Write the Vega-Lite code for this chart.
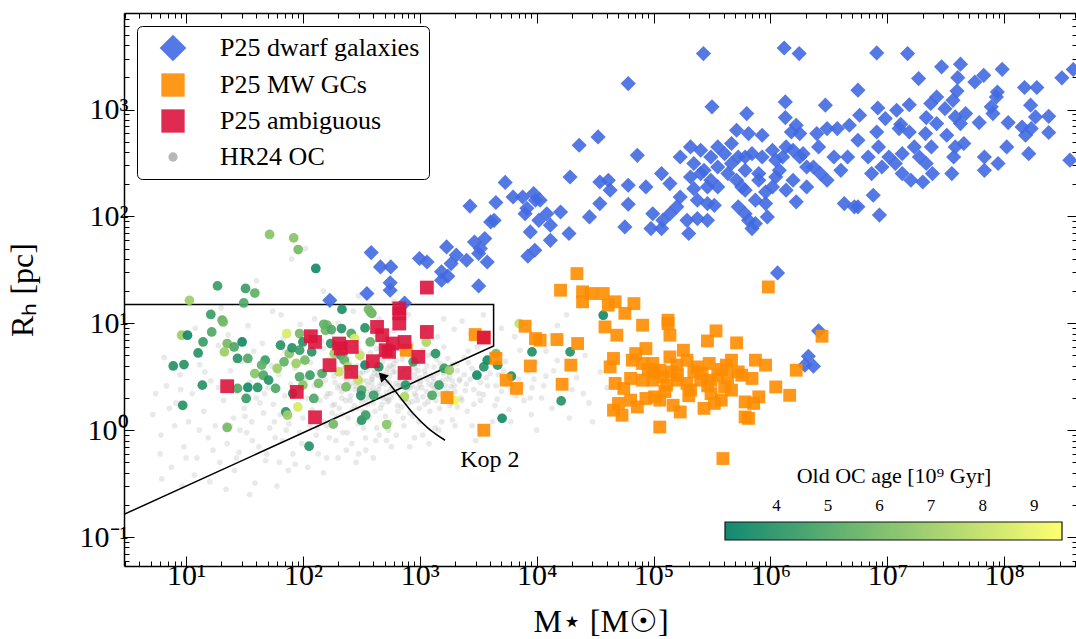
{
"$schema": "https://vega.github.io/schema/vega-lite/v6.json",
"width": 953, "height": 553,
"autosize": {"type": "none"},
"padding": {"left": 124, "top": 13, "right": 0, "bottom": 73},
"background": "white",
"config": {"font": "Liberation Serif", "view": {"stroke": null}},
"datasets": {
"gray": [
{"m":5.2,"r":1.4,"g":"HR24 OC"},{"m":6.1,"r":0.9,"g":"HR24 OC"},{"m":6.8,"r":2.6,"g":"HR24 OC"},{"m":7.5,"r":0.45,"g":"HR24 OC"},{"m":8.2,"r":1.8,"g":"HR24 OC"},{"m":8.9,"r":3.3,"g":"HR24 OC"},{"m":9.6,"r":0.7,"g":"HR24 OC"},{"m":10.5,"r":1.2,"g":"HR24 OC"},{"m":11.3,"r":2.2,"g":"HR24 OC"},{"m":12.4,"r":0.55,"g":"HR24 OC"},{"m":13.1,"r":4.1,"g":"HR24 OC"},{"m":14.2,"r":1.5,"g":"HR24 OC"},{"m":15.5,"r":0.85,"g":"HR24 OC"},{"m":16.3,"r":2.9,"g":"HR24 OC"},{"m":17.8,"r":1.1,"g":"HR24 OC"},{"m":18.9,"r":6.2,"g":"HR24 OC"},{"m":19.5,"r":0.5,"g":"HR24 OC"},{"m":6.5,"r":4.8,"g":"HR24 OC"},{"m":11.8,"r":0.38,"g":"HR24 OC"},{"m":8.0,"r":1.1,"g":"HR24 OC"},
{"m":21,"r":1.9,"g":"HR24 OC"},{"m":22.5,"r":0.75,"g":"HR24 OC"},{"m":24,"r":3.6,"g":"HR24 OC"},{"m":25.5,"r":1.3,"g":"HR24 OC"},{"m":27,"r":2.3,"g":"HR24 OC"},{"m":28.5,"r":0.62,"g":"HR24 OC"},{"m":30,"r":4.4,"g":"HR24 OC"},{"m":31.5,"r":1.6,"g":"HR24 OC"},{"m":33,"r":0.95,"g":"HR24 OC"},{"m":35,"r":2.8,"g":"HR24 OC"},{"m":36.5,"r":1.2,"g":"HR24 OC"},{"m":38,"r":5.5,"g":"HR24 OC"},{"m":40,"r":2.0,"g":"HR24 OC"},{"m":42,"r":0.7,"g":"HR24 OC"},{"m":44,"r":3.1,"g":"HR24 OC"},{"m":46,"r":1.45,"g":"HR24 OC"},{"m":48,"r":0.52,"g":"HR24 OC"},{"m":50,"r":2.5,"g":"HR24 OC"},{"m":52,"r":1.05,"g":"HR24 OC"},{"m":54,"r":4.0,"g":"HR24 OC"},{"m":56,"r":1.75,"g":"HR24 OC"},{"m":58,"r":0.85,"g":"HR24 OC"},{"m":23,"r":7.8,"g":"HR24 OC"},{"m":34,"r":9.5,"g":"HR24 OC"},{"m":45,"r":6.5,"g":"HR24 OC"},{"m":26,"r":0.42,"g":"HR24 OC"},{"m":39,"r":0.32,"g":"HR24 OC"},{"m":55,"r":13,"g":"HR24 OC"},{"m":29,"r":1.0,"g":"HR24 OC"},{"m":47,"r":2.2,"g":"HR24 OC"},
{"m":62,"r":3.3,"g":"HR24 OC"},{"m":64,"r":1.4,"g":"HR24 OC"},{"m":67,"r":0.8,"g":"HR24 OC"},{"m":70,"r":2.1,"g":"HR24 OC"},{"m":73,"r":4.9,"g":"HR24 OC"},{"m":76,"r":1.15,"g":"HR24 OC"},{"m":79,"r":2.7,"g":"HR24 OC"},{"m":82,"r":0.6,"g":"HR24 OC"},{"m":85,"r":3.8,"g":"HR24 OC"},{"m":88,"r":1.7,"g":"HR24 OC"},{"m":91,"r":2.4,"g":"HR24 OC"},{"m":94,"r":0.95,"g":"HR24 OC"},{"m":97,"r":5.6,"g":"HR24 OC"},{"m":100,"r":1.3,"g":"HR24 OC"},{"m":104,"r":3.0,"g":"HR24 OC"},{"m":108,"r":2.0,"g":"HR24 OC"},{"m":112,"r":0.7,"g":"HR24 OC"},{"m":116,"r":4.3,"g":"HR24 OC"},{"m":120,"r":1.55,"g":"HR24 OC"},{"m":125,"r":2.6,"g":"HR24 OC"},{"m":130,"r":0.9,"g":"HR24 OC"},{"m":135,"r":3.5,"g":"HR24 OC"},{"m":140,"r":1.9,"g":"HR24 OC"},{"m":145,"r":6.8,"g":"HR24 OC"},{"m":150,"r":1.2,"g":"HR24 OC"},{"m":155,"r":2.9,"g":"HR24 OC"},{"m":160,"r":0.55,"g":"HR24 OC"},{"m":166,"r":4.6,"g":"HR24 OC"},{"m":172,"r":2.2,"g":"HR24 OC"},{"m":178,"r":1.45,"g":"HR24 OC"},{"m":185,"r":3.2,"g":"HR24 OC"},{"m":192,"r":0.8,"g":"HR24 OC"},{"m":198,"r":2.5,"g":"HR24 OC"},{"m":68,"r":7.2,"g":"HR24 OC"},{"m":95,"r":9.8,"g":"HR24 OC"},{"m":126,"r":11,"g":"HR24 OC"},{"m":180,"r":8.2,"g":"HR24 OC"},{"m":110,"r":0.45,"g":"HR24 OC"},{"m":150,"r":0.4,"g":"HR24 OC"},{"m":75,"r":0.42,"g":"HR24 OC"},{"m":133,"r":1.05,"g":"HR24 OC"},{"m":158,"r":2.05,"g":"HR24 OC"},{"m":187,"r":1.75,"g":"HR24 OC"},{"m":105,"r":50,"g":"HR24 OC"},{"m":80,"r":40,"g":"HR24 OC"},
{"m":205,"r":1.6,"g":"HR24 OC"},{"m":210,"r":3.7,"g":"HR24 OC"},{"m":215,"r":2.3,"g":"HR24 OC"},{"m":220,"r":0.95,"g":"HR24 OC"},{"m":226,"r":5.1,"g":"HR24 OC"},{"m":232,"r":1.9,"g":"HR24 OC"},{"m":238,"r":2.9,"g":"HR24 OC"},{"m":244,"r":1.3,"g":"HR24 OC"},{"m":250,"r":4.2,"g":"HR24 OC"},{"m":256,"r":2.1,"g":"HR24 OC"},{"m":262,"r":0.75,"g":"HR24 OC"},{"m":268,"r":3.3,"g":"HR24 OC"},{"m":275,"r":1.7,"g":"HR24 OC"},{"m":282,"r":2.6,"g":"HR24 OC"},{"m":289,"r":6.0,"g":"HR24 OC"},{"m":296,"r":1.15,"g":"HR24 OC"},{"m":304,"r":3.0,"g":"HR24 OC"},{"m":312,"r":2.0,"g":"HR24 OC"},{"m":320,"r":4.6,"g":"HR24 OC"},{"m":328,"r":1.5,"g":"HR24 OC"},{"m":336,"r":2.45,"g":"HR24 OC"},{"m":344,"r":0.85,"g":"HR24 OC"},{"m":352,"r":3.6,"g":"HR24 OC"},{"m":361,"r":2.15,"g":"HR24 OC"},{"m":370,"r":1.3,"g":"HR24 OC"},{"m":379,"r":5.3,"g":"HR24 OC"},{"m":388,"r":2.8,"g":"HR24 OC"},{"m":398,"r":1.8,"g":"HR24 OC"},{"m":408,"r":3.4,"g":"HR24 OC"},{"m":418,"r":2.3,"g":"HR24 OC"},{"m":428,"r":1.05,"g":"HR24 OC"},{"m":439,"r":4.1,"g":"HR24 OC"},{"m":450,"r":2.6,"g":"HR24 OC"},{"m":461,"r":1.6,"g":"HR24 OC"},{"m":472,"r":3.1,"g":"HR24 OC"},{"m":484,"r":2.0,"g":"HR24 OC"},{"m":496,"r":7.1,"g":"HR24 OC"},{"m":508,"r":1.35,"g":"HR24 OC"},{"m":520,"r":2.9,"g":"HR24 OC"},{"m":533,"r":3.8,"g":"HR24 OC"},{"m":546,"r":1.9,"g":"HR24 OC"},{"m":559,"r":2.4,"g":"HR24 OC"},{"m":573,"r":0.7,"g":"HR24 OC"},{"m":587,"r":3.5,"g":"HR24 OC"},{"m":260,"r":8.5,"g":"HR24 OC"},{"m":340,"r":9.3,"g":"HR24 OC"},{"m":420,"r":7.8,"g":"HR24 OC"},{"m":300,"r":0.6,"g":"HR24 OC"},{"m":450,"r":0.9,"g":"HR24 OC"},{"m":560,"r":1.2,"g":"HR24 OC"},{"m":230,"r":3.9,"g":"HR24 OC"},{"m":310,"r":3.4,"g":"HR24 OC"},{"m":390,"r":3.0,"g":"HR24 OC"},{"m":470,"r":2.75,"g":"HR24 OC"},{"m":550,"r":3.2,"g":"HR24 OC"},{"m":280,"r":2.85,"g":"HR24 OC"},{"m":360,"r":2.65,"g":"HR24 OC"},{"m":440,"r":3.25,"g":"HR24 OC"},{"m":520,"r":2.25,"g":"HR24 OC"},{"m":320,"r":1.85,"g":"HR24 OC"},{"m":400,"r":2.5,"g":"HR24 OC"},{"m":480,"r":4.4,"g":"HR24 OC"},{"m":250,"r":2.55,"g":"HR24 OC"},{"m":430,"r":5.8,"g":"HR24 OC"},{"m":510,"r":5.0,"g":"HR24 OC"},{"m":290,"r":4.0,"g":"HR24 OC"},{"m":370,"r":3.9,"g":"HR24 OC"},
{"m":610,"r":2.3,"g":"HR24 OC"},{"m":630,"r":4.5,"g":"HR24 OC"},{"m":650,"r":1.5,"g":"HR24 OC"},{"m":670,"r":3.1,"g":"HR24 OC"},{"m":690,"r":2.0,"g":"HR24 OC"},{"m":710,"r":5.5,"g":"HR24 OC"},{"m":730,"r":1.1,"g":"HR24 OC"},{"m":750,"r":2.7,"g":"HR24 OC"},{"m":775,"r":3.7,"g":"HR24 OC"},{"m":800,"r":1.8,"g":"HR24 OC"},{"m":825,"r":2.5,"g":"HR24 OC"},{"m":850,"r":6.4,"g":"HR24 OC"},{"m":875,"r":1.35,"g":"HR24 OC"},{"m":900,"r":3.3,"g":"HR24 OC"},{"m":930,"r":2.1,"g":"HR24 OC"},{"m":960,"r":4.2,"g":"HR24 OC"},{"m":990,"r":1.6,"g":"HR24 OC"},{"m":1020,"r":2.9,"g":"HR24 OC"},{"m":1060,"r":0.9,"g":"HR24 OC"},{"m":1100,"r":3.6,"g":"HR24 OC"},{"m":1140,"r":2.3,"g":"HR24 OC"},{"m":1180,"r":5.0,"g":"HR24 OC"},{"m":1220,"r":1.5,"g":"HR24 OC"},{"m":1270,"r":2.6,"g":"HR24 OC"},{"m":1320,"r":3.9,"g":"HR24 OC"},{"m":1370,"r":1.9,"g":"HR24 OC"},{"m":1420,"r":7.5,"g":"HR24 OC"},{"m":1480,"r":2.8,"g":"HR24 OC"},{"m":1540,"r":1.2,"g":"HR24 OC"},{"m":1600,"r":3.4,"g":"HR24 OC"},{"m":1670,"r":2.2,"g":"HR24 OC"},{"m":1740,"r":4.7,"g":"HR24 OC"},{"m":1810,"r":1.7,"g":"HR24 OC"},{"m":1890,"r":2.9,"g":"HR24 OC"},{"m":1970,"r":8.8,"g":"HR24 OC"},{"m":700,"r":3.4,"g":"HR24 OC"},{"m":800,"r":2.9,"g":"HR24 OC"},{"m":900,"r":4.8,"g":"HR24 OC"},{"m":1000,"r":3.1,"g":"HR24 OC"},{"m":1150,"r":4.0,"g":"HR24 OC"},{"m":1300,"r":2.2,"g":"HR24 OC"},{"m":650,"r":2.6,"g":"HR24 OC"},{"m":760,"r":1.95,"g":"HR24 OC"},{"m":950,"r":2.45,"g":"HR24 OC"},{"m":1250,"r":3.25,"g":"HR24 OC"},{"m":1700,"r":3.0,"g":"HR24 OC"},{"m":1500,"r":4.2,"g":"HR24 OC"},{"m":820,"r":0.7,"g":"HR24 OC"},{"m":1200,"r":0.75,"g":"HR24 OC"},
{"m":2100,"r":3.6,"g":"HR24 OC"},{"m":2250,"r":2.0,"g":"HR24 OC"},{"m":2400,"r":4.8,"g":"HR24 OC"},{"m":2550,"r":1.5,"g":"HR24 OC"},{"m":2700,"r":3.0,"g":"HR24 OC"},{"m":2900,"r":2.4,"g":"HR24 OC"},{"m":3100,"r":6.0,"g":"HR24 OC"},{"m":3300,"r":1.9,"g":"HR24 OC"},{"m":3550,"r":3.8,"g":"HR24 OC"},{"m":3800,"r":2.6,"g":"HR24 OC"},{"m":4100,"r":5.2,"g":"HR24 OC"},{"m":4400,"r":1.7,"g":"HR24 OC"},{"m":4700,"r":3.3,"g":"HR24 OC"},{"m":5000,"r":2.3,"g":"HR24 OC"},{"m":5400,"r":4.4,"g":"HR24 OC"},{"m":5800,"r":1.55,"g":"HR24 OC"},{"m":6200,"r":3.0,"g":"HR24 OC"},{"m":6700,"r":2.1,"g":"HR24 OC"},{"m":7200,"r":5.6,"g":"HR24 OC"},{"m":7800,"r":1.9,"g":"HR24 OC"},{"m":8400,"r":3.5,"g":"HR24 OC"},{"m":9100,"r":2.5,"g":"HR24 OC"},{"m":9800,"r":4.3,"g":"HR24 OC"},{"m":11000,"r":2.0,"g":"HR24 OC"},{"m":12000,"r":3.2,"g":"HR24 OC"},{"m":13500,"r":1.6,"g":"HR24 OC"},{"m":15000,"r":4.5,"g":"HR24 OC"},{"m":17000,"r":2.7,"g":"HR24 OC"},{"m":19000,"r":1.3,"g":"HR24 OC"},{"m":22000,"r":3.1,"g":"HR24 OC"},{"m":25000,"r":2.2,"g":"HR24 OC"},{"m":2300,"r":10.5,"g":"HR24 OC"},{"m":3500,"r":12,"g":"HR24 OC"},{"m":5000,"r":9.0,"g":"HR24 OC"},{"m":6500,"r":7.5,"g":"HR24 OC"},{"m":8000,"r":8.5,"g":"HR24 OC"},{"m":2800,"r":1.1,"g":"HR24 OC"},{"m":4200,"r":1.2,"g":"HR24 OC"},{"m":10000,"r":1.0,"g":"HR24 OC"},{"m":15000,"r":9.5,"g":"HR24 OC"},{"m":18000,"r":12,"g":"HR24 OC"},{"m":3000,"r":0.8,"g":"HR24 OC"},
{"m":155,"r":3.4,"g":"HR24 OC"},{"m":163,"r":2.2,"g":"HR24 OC"},{"m":171,"r":4.1,"g":"HR24 OC"},{"m":179,"r":1.7,"g":"HR24 OC"},{"m":188,"r":2.8,"g":"HR24 OC"},{"m":197,"r":5.2,"g":"HR24 OC"},{"m":207,"r":2.6,"g":"HR24 OC"},{"m":218,"r":1.4,"g":"HR24 OC"},{"m":229,"r":3.1,"g":"HR24 OC"},{"m":241,"r":4.7,"g":"HR24 OC"},{"m":253,"r":1.9,"g":"HR24 OC"},{"m":266,"r":3.6,"g":"HR24 OC"},{"m":279,"r":2.4,"g":"HR24 OC"},{"m":293,"r":1.6,"g":"HR24 OC"},{"m":308,"r":5.5,"g":"HR24 OC"},{"m":324,"r":2.9,"g":"HR24 OC"},{"m":340,"r":3.9,"g":"HR24 OC"},{"m":357,"r":1.75,"g":"HR24 OC"},{"m":375,"r":2.35,"g":"HR24 OC"},{"m":394,"r":4.4,"g":"HR24 OC"},{"m":414,"r":1.5,"g":"HR24 OC"},{"m":435,"r":3.3,"g":"HR24 OC"},{"m":457,"r":2.1,"g":"HR24 OC"},{"m":480,"r":5.9,"g":"HR24 OC"},{"m":504,"r":2.7,"g":"HR24 OC"},{"m":529,"r":1.85,"g":"HR24 OC"},{"m":556,"r":4.0,"g":"HR24 OC"},{"m":584,"r":2.5,"g":"HR24 OC"},{"m":613,"r":3.5,"g":"HR24 OC"},{"m":644,"r":1.7,"g":"HR24 OC"},{"m":676,"r":2.9,"g":"HR24 OC"},{"m":710,"r":4.6,"g":"HR24 OC"},{"m":745,"r":2.2,"g":"HR24 OC"},{"m":782,"r":3.2,"g":"HR24 OC"},{"m":821,"r":1.45,"g":"HR24 OC"},{"m":862,"r":2.6,"g":"HR24 OC"},{"m":905,"r":3.8,"g":"HR24 OC"},{"m":950,"r":1.9,"g":"HR24 OC"},{"m":998,"r":2.7,"g":"HR24 OC"},{"m":1048,"r":4.5,"g":"HR24 OC"},{"m":1100,"r":1.75,"g":"HR24 OC"},{"m":1155,"r":3.0,"g":"HR24 OC"},{"m":1213,"r":2.1,"g":"HR24 OC"},{"m":1274,"r":5.2,"g":"HR24 OC"},{"m":1338,"r":2.5,"g":"HR24 OC"},{"m":1405,"r":3.4,"g":"HR24 OC"},{"m":1475,"r":1.6,"g":"HR24 OC"},{"m":1549,"r":2.9,"g":"HR24 OC"},{"m":1626,"r":4.0,"g":"HR24 OC"},{"m":1707,"r":2.3,"g":"HR24 OC"},{"m":1793,"r":3.5,"g":"HR24 OC"},{"m":1882,"r":1.8,"g":"HR24 OC"},{"m":1976,"r":2.6,"g":"HR24 OC"},{"m":2075,"r":4.2,"g":"HR24 OC"},{"m":2179,"r":2.9,"g":"HR24 OC"},{"m":2288,"r":1.9,"g":"HR24 OC"},{"m":2402,"r":3.3,"g":"HR24 OC"},
{"m":160,"r":1.1,"g":"HR24 OC"},{"m":190,"r":6.2,"g":"HR24 OC"},{"m":240,"r":0.95,"g":"HR24 OC"},{"m":270,"r":7.5,"g":"HR24 OC"},{"m":330,"r":1.05,"g":"HR24 OC"},{"m":360,"r":6.6,"g":"HR24 OC"},{"m":420,"r":0.8,"g":"HR24 OC"},{"m":470,"r":6.8,"g":"HR24 OC"},{"m":540,"r":1.0,"g":"HR24 OC"},{"m":600,"r":5.8,"g":"HR24 OC"},{"m":720,"r":1.3,"g":"HR24 OC"},{"m":840,"r":5.0,"g":"HR24 OC"},{"m":980,"r":1.2,"g":"HR24 OC"},{"m":1130,"r":6.3,"g":"HR24 OC"},{"m":1350,"r":1.05,"g":"HR24 OC"},{"m":1600,"r":6.0,"g":"HR24 OC"},{"m":1900,"r":1.25,"g":"HR24 OC"},{"m":2600,"r":5.5,"g":"HR24 OC"},{"m":3200,"r":2.2,"g":"HR24 OC"},{"m":3700,"r":3.1,"g":"HR24 OC"},{"m":4500,"r":2.6,"g":"HR24 OC"},{"m":5200,"r":3.6,"g":"HR24 OC"},{"m":6000,"r":2.4,"g":"HR24 OC"},{"m":7000,"r":3.0,"g":"HR24 OC"},{"m":8800,"r":2.0,"g":"HR24 OC"},{"m":11500,"r":2.6,"g":"HR24 OC"},{"m":14000,"r":3.6,"g":"HR24 OC"},{"m":20000,"r":2.4,"g":"HR24 OC"},{"m":28000,"r":1.8,"g":"HR24 OC"},
{"m":6,"r":0.6,"g":"HR24 OC"},{"m":7.2,"r":1.6,"g":"HR24 OC"},{"m":9,"r":2.4,"g":"HR24 OC"},{"m":10,"r":0.55,"g":"HR24 OC"},{"m":13,"r":1.0,"g":"HR24 OC"},{"m":14.5,"r":3.5,"g":"HR24 OC"},{"m":17,"r":0.65,"g":"HR24 OC"},{"m":19,"r":2.5,"g":"HR24 OC"},{"m":24,"r":1.1,"g":"HR24 OC"},{"m":27,"r":0.55,"g":"HR24 OC"},{"m":32,"r":1.35,"g":"HR24 OC"},{"m":37,"r":0.8,"g":"HR24 OC"},{"m":43,"r":1.8,"g":"HR24 OC"},{"m":49,"r":0.6,"g":"HR24 OC"},{"m":57,"r":1.2,"g":"HR24 OC"},{"m":63,"r":0.5,"g":"HR24 OC"},{"m":72,"r":1.0,"g":"HR24 OC"},{"m":86,"r":0.48,"g":"HR24 OC"},{"m":98,"r":0.75,"g":"HR24 OC"},{"m":115,"r":1.1,"g":"HR24 OC"},{"m":135,"r":0.6,"g":"HR24 OC"},{"m":168,"r":0.85,"g":"HR24 OC"},{"m":200,"r":0.55,"g":"HR24 OC"},{"m":235,"r":0.65,"g":"HR24 OC"},{"m":285,"r":0.5,"g":"HR24 OC"},{"m":345,"r":0.65,"g":"HR24 OC"},{"m":400,"r":0.55,"g":"HR24 OC"},{"m":520,"r":0.8,"g":"HR24 OC"},{"m":630,"r":0.9,"g":"HR24 OC"},{"m":900,"r":0.85,"g":"HR24 OC"},{"m":1450,"r":1.0,"g":"HR24 OC"},{"m":2000,"r":1.1,"g":"HR24 OC"},{"m":5.5,"r":2.2,"g":"HR24 OC"},{"m":6.2,"r":0.35,"g":"HR24 OC"},{"m":9.3,"r":0.3,"g":"HR24 OC"},{"m":16,"r":0.33,"g":"HR24 OC"},{"m":22,"r":0.28,"g":"HR24 OC"},{"m":35,"r":0.25,"g":"HR24 OC"},{"m":60,"r":0.3,"g":"HR24 OC"},
{"m":12,"r":9,"g":"HR24 OC"},{"m":20,"r":14,"g":"HR24 OC"},{"m":30,"r":7,"g":"HR24 OC"},{"m":65,"r":12,"g":"HR24 OC"},{"m":110,"r":7.5,"g":"HR24 OC"},{"m":200,"r":10,"g":"HR24 OC"},{"m":270,"r":13,"g":"HR24 OC"},{"m":450,"r":11,"g":"HR24 OC"},{"m":600,"r":8.5,"g":"HR24 OC"},{"m":800,"r":12,"g":"HR24 OC"},{"m":1100,"r":9,"g":"HR24 OC"},{"m":1600,"r":11,"g":"HR24 OC"},{"m":2700,"r":8,"g":"HR24 OC"},{"m":40,"r":25,"g":"HR24 OC"},{"m":150,"r":20,"g":"HR24 OC"},{"m":300,"r":18,"g":"HR24 OC"},{"m":600,"r":16,"g":"HR24 OC"},{"m":1200,"r":20,"g":"HR24 OC"},{"m":70,"r":5.5,"g":"HR24 OC"},{"m":150,"r":5.8,"g":"HR24 OC"},
{"m":35000,"r":3.5,"g":"HR24 OC"},{"m":26000,"r":5.0,"g":"HR24 OC"},{"m":12000,"r":5.5,"g":"HR24 OC"},{"m":9000,"r":1.4,"g":"HR24 OC"},{"m":6000,"r":1.2,"g":"HR24 OC"},{"m":30000,"r":1.2,"g":"HR24 OC"},{"m":40000,"r":2.5,"g":"HR24 OC"},{"m":16000,"r":7,"g":"HR24 OC"},
{"m":215,"r":2.0,"g":"HR24 OC"},{"m":235,"r":3.3,"g":"HR24 OC"},{"m":255,"r":2.7,"g":"HR24 OC"},{"m":275,"r":3.9,"g":"HR24 OC"},{"m":300,"r":2.2,"g":"HR24 OC"},{"m":325,"r":3.5,"g":"HR24 OC"},{"m":350,"r":2.9,"g":"HR24 OC"},{"m":380,"r":2.0,"g":"HR24 OC"},{"m":410,"r":3.7,"g":"HR24 OC"},{"m":445,"r":2.4,"g":"HR24 OC"},{"m":480,"r":3.3,"g":"HR24 OC"},{"m":515,"r":2.0,"g":"HR24 OC"},{"m":550,"r":2.8,"g":"HR24 OC"},{"m":590,"r":3.9,"g":"HR24 OC"},{"m":630,"r":2.3,"g":"HR24 OC"},{"m":680,"r":2.6,"g":"HR24 OC"},{"m":730,"r":3.6,"g":"HR24 OC"},{"m":780,"r":2.4,"g":"HR24 OC"},{"m":840,"r":3.0,"g":"HR24 OC"},{"m":900,"r":2.2,"g":"HR24 OC"},{"m":970,"r":3.6,"g":"HR24 OC"},{"m":1040,"r":2.5,"g":"HR24 OC"},{"m":1120,"r":3.3,"g":"HR24 OC"},{"m":1200,"r":2.7,"g":"HR24 OC"},{"m":1300,"r":3.1,"g":"HR24 OC"},{"m":1400,"r":2.4,"g":"HR24 OC"},{"m":1500,"r":3.7,"g":"HR24 OC"},{"m":1650,"r":2.6,"g":"HR24 OC"},{"m":1800,"r":3.2,"g":"HR24 OC"},{"m":2000,"r":2.3,"g":"HR24 OC"},{"m":2200,"r":3.0,"g":"HR24 OC"},{"m":2500,"r":2.7,"g":"HR24 OC"},{"m":2800,"r":3.8,"g":"HR24 OC"},{"m":3300,"r":2.8,"g":"HR24 OC"},{"m":4000,"r":3.4,"g":"HR24 OC"},
{"m":225,"r":2.45,"g":"HR24 OC"},{"m":265,"r":1.55,"g":"HR24 OC"},{"m":305,"r":2.65,"g":"HR24 OC"},{"m":345,"r":1.95,"g":"HR24 OC"},{"m":390,"r":3.15,"g":"HR24 OC"},{"m":430,"r":2.25,"g":"HR24 OC"},{"m":475,"r":1.75,"g":"HR24 OC"},{"m":520,"r":3.45,"g":"HR24 OC"},{"m":570,"r":2.05,"g":"HR24 OC"},{"m":620,"r":2.75,"g":"HR24 OC"},{"m":700,"r":1.65,"g":"HR24 OC"},{"m":760,"r":3.05,"g":"HR24 OC"},{"m":860,"r":1.85,"g":"HR24 OC"},{"m":940,"r":2.95,"g":"HR24 OC"},{"m":1060,"r":2.05,"g":"HR24 OC"},{"m":1180,"r":1.85,"g":"HR24 OC"},{"m":1320,"r":2.85,"g":"HR24 OC"},{"m":1460,"r":2.15,"g":"HR24 OC"},{"m":1620,"r":1.95,"g":"HR24 OC"},{"m":1850,"r":2.55,"g":"HR24 OC"},{"m":2100,"r":1.65,"g":"HR24 OC"},{"m":2450,"r":2.35,"g":"HR24 OC"},{"m":2900,"r":1.75,"g":"HR24 OC"},{"m":3500,"r":2.15,"g":"HR24 OC"},{"m":4600,"r":1.95,"g":"HR24 OC"},{"m":5500,"r":2.7,"g":"HR24 OC"},{"m":7500,"r":2.6,"g":"HR24 OC"},{"m":9500,"r":3.0,"g":"HR24 OC"},
{"m":180,"r":3.6,"g":"HR24 OC"},{"m":195,"r":1.35,"g":"HR24 OC"},{"m":330,"r":4.2,"g":"HR24 OC"},{"m":460,"r":4.9,"g":"HR24 OC"},{"m":600,"r":4.2,"g":"HR24 OC"},{"m":880,"r":4.3,"g":"HR24 OC"},{"m":1050,"r":5.6,"g":"HR24 OC"},{"m":1400,"r":4.6,"g":"HR24 OC"},{"m":1900,"r":4.1,"g":"HR24 OC"},{"m":2600,"r":4.3,"g":"HR24 OC"}
],
"box": [{"m":2.949,"r":15,"o":0},{"m":4280,"r":15,"o":1},{"m":4280,"r":6.14,"o":2},{"m":2.949,"r":0.163,"o":3}],
"oc": [
{"m":51.9,"r":67.8,"a":6.5},{"m":83.4,"r":63,"a":6.5},{"m":91.2,"r":49,"a":6},{"m":129,"r":32.6,"a":3.5},{"m":18.6,"r":22.4,"a":4.5},{"m":32.3,"r":21.2,"a":4.5},{"m":38.8,"r":19.2,"a":5.5},{"m":10.7,"r":16.4,"a":7},{"m":31.2,"r":15.5,"a":5},{"m":216,"r":13.5,"a":3.8},{"m":364,"r":13.5,"a":6},{"m":389,"r":12.4,"a":5.5},{"m":16.3,"r":12.1,"a":4.5},{"m":20.4,"r":10.7,"a":5.5},{"m":9.18,"r":7.74,"a":7},{"m":10.3,"r":7.74,"a":3.5},{"m":7.78,"r":3.99,"a":4},{"m":9.61,"r":4.11,"a":4},{"m":9.37,"r":1.71,"a":4},{"m":12.7,"r":5.28,"a":4},{"m":20.8,"r":10.3,"a":6},{"m":14,"r":6.69,"a":4.5},{"m":16.6,"r":8.3,"a":5},{"m":22.5,"r":6.47,"a":6},{"m":21.3,"r":5.4,"a":7},{"m":25.8,"r":6.01,"a":5},{"m":30.2,"r":6.69,"a":3.5},{"m":27.6,"r":4.69,"a":4},{"m":33.8,"r":4.69,"a":5},{"m":13.8,"r":2.64,"a":4},{"m":27.6,"r":2.46,"a":5},{"m":33.8,"r":2.51,"a":3.5},{"m":41,"r":2.51,"a":4},{"m":32.7,"r":1.98,"a":4.5},{"m":22.5,"r":1.06,"a":6},{"m":38.8,"r":3.39,"a":6.5},{"m":45.9,"r":3.27,"a":5},{"m":47.6,"r":4.52,"a":4.5},{"m":44.4,"r":4.06,"a":5.5},{"m":50.9,"r":2.94,"a":4},{"m":58.4,"r":2.46,"a":5},{"m":60.3,"r":3.78,"a":7},{"m":64.4,"r":6.24,"a":4},{"m":69,"r":4.36,"a":5.5},{"m":76.5,"r":5.21,"a":6.5},{"m":80.7,"r":5.89,"a":4},{"m":72.8,"r":8.02,"a":8.5},{"m":93.7,"r":8.02,"a":6},{"m":100,"r":6.69,"a":4},{"m":93.7,"r":5.6,"a":4.5},{"m":87.5,"r":4.21,"a":7},{"m":104,"r":4.52,"a":6},{"m":119,"r":5.4,"a":4},{"m":115,"r":3.27,"a":4.5},{"m":93.7,"r":3.16,"a":5},{"m":100,"r":2.64,"a":6.5},{"m":81.9,"r":2.2,"a":3.5},{"m":71.4,"r":1.48,"a":4},{"m":73.8,"r":1.38,"a":7},{"m":90.6,"r":1.65,"a":8.5},{"m":113,"r":0.708,"a":4},{"m":124,"r":1.98,"a":5},{"m":136,"r":2.74,"a":6},{"m":146,"r":3.39,"a":5},{"m":156,"r":8.61,"a":6},{"m":161,"r":9.6,"a":6},{"m":173,"r":6.47,"a":4},{"m":185,"r":5.21,"a":7},{"m":204,"r":3.51,"a":8},{"m":211,"r":5.02,"a":4.5},{"m":226,"r":4.52,"a":5.5},{"m":242,"r":3.91,"a":7.5},{"m":214,"r":8.93,"a":4},{"m":259,"r":8.02,"a":5},{"m":277,"r":7.2,"a":8.5},{"m":307,"r":5.02,"a":8},{"m":297,"r":2.94,"a":8},{"m":234,"r":2.54,"a":6},{"m":318,"r":2.37,"a":5},{"m":313,"r":2.11,"a":4},{"m":182,"r":1.14,"a":6},{"m":318,"r":1.24,"a":4},{"m":344,"r":1.38,"a":4.5},{"m":403,"r":2.12,"a":4.5},{"m":340,"r":4.06,"a":3.5},{"m":446,"r":3.91,"a":4},{"m":377,"r":6.69,"a":5.5},{"m":340,"r":9.06,"a":4},{"m":377,"r":12.8,"a":6},{"m":521,"r":1.13,"a":6.5},{"m":741,"r":2.05,"a":7.5},{"m":755,"r":2.64,"a":4},{"m":877,"r":4.36,"a":4.5},{"m":1136,"r":6.69,"a":7.5},{"m":1364,"r":5.21,"a":4},{"m":1617,"r":3.78,"a":4.5},{"m":1791,"r":3.64,"a":7},{"m":1276,"r":2.12,"a":5},{"m":1460,"r":2.64,"a":4.5},{"m":1981,"r":1.9,"a":9},{"m":3080,"r":3.27,"a":3.5},{"m":3530,"r":3.91,"a":4},{"m":3780,"r":4.52,"a":3.5},{"m":4480,"r":5.21,"a":6},{"m":4630,"r":4.06,"a":4},{"m":6070,"r":3.2,"a":3.8},{"m":5060,"r":1.29,"a":3.5},{"m":7100,"r":9.95,"a":8},{"m":9120,"r":5.4,"a":3.8},{"m":37100,"r":11.9,"a":3.5},{"m":19300,"r":5.4,"a":4},{"m":16200,"r":1.88,"a":4},{"m":151,"r":9.8,"a":5.5},{"m":175,"r":8.75,"a":5}
],
"dw": [
{"m":170,"r":16.4,"g":"P25 dwarf galaxies"},{"m":353,"r":19.0,"g":"P25 dwarf galaxies"},{"m":384,"r":45.9,"g":"P25 dwarf galaxies"},{"m":461,"r":33.7,"g":"P25 dwarf galaxies"},{"m":565,"r":33.7,"g":"P25 dwarf galaxies"},{"m":558,"r":23.9,"g":"P25 dwarf galaxies"},{"m":558,"r":20.4,"g":"P25 dwarf galaxies"},{"m":741,"r":15.5,"g":"P25 dwarf galaxies"},{"m":994,"r":40.4,"g":"P25 dwarf galaxies"},{"m":1153,"r":37.5,"g":"P25 dwarf galaxies"},{"m":1535,"r":30.3,"g":"P25 dwarf galaxies"},{"m":1535,"r":25.3,"g":"P25 dwarf galaxies"},{"m":1734,"r":27.6,"g":"P25 dwarf galaxies"},{"m":1695,"r":51.9,"g":"P25 dwarf galaxies"},{"m":1853,"r":36.2,"g":"P25 dwarf galaxies"},{"m":2052,"r":43.4,"g":"P25 dwarf galaxies"},{"m":2514,"r":38.9,"g":"P25 dwarf galaxies"},{"m":2687,"r":125,"g":"P25 dwarf galaxies"},{"m":2938,"r":57.7,"g":"P25 dwarf galaxies"},{"m":3190,"r":45,"g":"P25 dwarf galaxies"},{"m":3300,"r":50.1,"g":"P25 dwarf galaxies"},{"m":3597,"r":62.1,"g":"P25 dwarf galaxies"},{"m":3190,"r":22.4,"g":"P25 dwarf galaxies"},{"m":3776,"r":37.5,"g":"P25 dwarf galaxies"},{"m":4040,"r":88.9,"g":"P25 dwarf galaxies"},{"m":4325,"r":92,"g":"P25 dwarf galaxies"},{"m":4477,"r":135,"g":"P25 dwarf galaxies"},{"m":5380,"r":208,"g":"P25 dwarf galaxies"},{"m":6285,"r":152,"g":"P25 dwarf galaxies"},{"m":7590,"r":152,"g":"P25 dwarf galaxies"},{"m":7960,"r":106,"g":"P25 dwarf galaxies"},{"m":8240,"r":119,"g":"P25 dwarf galaxies"},{"m":8820,"r":71.6,"g":"P25 dwarf galaxies"},{"m":8410,"r":42.5,"g":"P25 dwarf galaxies"},{"m":9420,"r":164,"g":"P25 dwarf galaxies"},{"m":9770,"r":142,"g":"P25 dwarf galaxies"},{"m":9640,"r":48.3,"g":"P25 dwarf galaxies"},{"m":10440,"r":92,"g":"P25 dwarf galaxies"},
{"m":2.67e5,"r":3340,"g":"P25 dwarf galaxies"},{"m":1.31e6,"r":3770,"g":"P25 dwarf galaxies"},{"m":1.76e6,"r":3340,"g":"P25 dwarf galaxies"},{"m":8.11e6,"r":3390,"g":"P25 dwarf galaxies"},{"m":1.49e7,"r":3340,"g":"P25 dwarf galaxies"},{"m":2.91e7,"r":2510,"g":"P25 dwarf galaxies"},{"m":4.22e7,"r":2660,"g":"P25 dwarf galaxies"},{"m":4.0e7,"r":1990,"g":"P25 dwarf galaxies"},{"m":1.85e7,"r":1950,"g":"P25 dwarf galaxies"},{"m":9.6e7,"r":2380,"g":"P25 dwarf galaxies"},{"m":6.67e7,"r":2090,"g":"P25 dwarf galaxies"},{"m":5.6e7,"r":1810,"g":"P25 dwarf galaxies"},{"m":3.11e8,"r":1980,"g":"P25 dwarf galaxies"},{"m":3.89e8,"r":2370,"g":"P25 dwarf galaxies"},{"m":1.49e8,"r":1610,"g":"P25 dwarf galaxies"},{"m":1.9e8,"r":1610,"g":"P25 dwarf galaxies"},{"m":6.07e4,"r":1750,"g":"P25 dwarf galaxies"},{"m":5.6e6,"r":1520,"g":"P25 dwarf galaxies"},{"m":3.94e7,"r":1490,"g":"P25 dwarf galaxies"},{"m":8.73e7,"r":1460,"g":"P25 dwarf galaxies"},{"m":2.64e7,"r":1310,"g":"P25 dwarf galaxies"},{"m":2.35e7,"r":1140,"g":"P25 dwarf galaxies"},{"m":3.64e7,"r":1220,"g":"P25 dwarf galaxies"},{"m":8.56e7,"r":1310,"g":"P25 dwarf galaxies"},{"m":1.54e7,"r":1110,"g":"P25 dwarf galaxies"},{"m":1.2e7,"r":985,"g":"P25 dwarf galaxies"},{"m":8.28e6,"r":1035,"g":"P25 dwarf galaxies"},{"m":2.95e6,"r":1100,"g":"P25 dwarf galaxies"},{"m":1.34e6,"r":1180,"g":"P25 dwarf galaxies"},{"m":3.16e5,"r":1060,"g":"P25 dwarf galaxies"},{"m":6.27e5,"r":918,"g":"P25 dwarf galaxies"},{"m":1.34e6,"r":842,"g":"P25 dwarf galaxies"},{"m":1.68e8,"r":1100,"g":"P25 dwarf galaxies"},{"m":7.74e7,"r":1060,"g":"P25 dwarf galaxies"},{"m":3.11e7,"r":1020,"g":"P25 dwarf galaxies"},{"m":4.67e7,"r":918,"g":"P25 dwarf galaxies"},{"m":2.15e7,"r":842,"g":"P25 dwarf galaxies"},{"m":3.81e7,"r":853,"g":"P25 dwarf galaxies"},{"m":2.4e8,"r":865,"g":"P25 dwarf galaxies"},{"m":1.85e8,"r":853,"g":"P25 dwarf galaxies"},{"m":1.08e8,"r":755,"g":"P25 dwarf galaxies"},{"m":6.1e7,"r":755,"g":"P25 dwarf galaxies"},{"m":8.0e7,"r":918,"g":"P25 dwarf galaxies"},{"m":5.79e6,"r":885,"g":"P25 dwarf galaxies"},{"m":9.6e6,"r":824,"g":"P25 dwarf galaxies"},{"m":4.73e6,"r":713,"g":"P25 dwarf galaxies"},{"m":1.3e7,"r":728,"g":"P25 dwarf galaxies"},{"m":2.64e7,"r":739,"g":"P25 dwarf galaxies"},{"m":4.22e7,"r":739,"g":"P25 dwarf galaxies"},{"m":1.66e6,"r":713,"g":"P25 dwarf galaxies"},{"m":1.42e8,"r":687,"g":"P25 dwarf galaxies"},{"m":1.7e8,"r":664,"g":"P25 dwarf galaxies"},{"m":2.4e8,"r":610,"g":"P25 dwarf galaxies"},{"m":1.52e8,"r":575,"g":"P25 dwarf galaxies"},{"m":2.12e7,"r":596,"g":"P25 dwarf galaxies"},{"m":3.22e7,"r":575,"g":"P25 dwarf galaxies"},{"m":1.54e7,"r":617,"g":"P25 dwarf galaxies"},{"m":8.11e6,"r":617,"g":"P25 dwarf galaxies"},{"m":1.26e7,"r":664,"g":"P25 dwarf galaxies"},{"m":3.73e6,"r":664,"g":"P25 dwarf galaxies"},{"m":3.05e6,"r":664,"g":"P25 dwarf galaxies"},{"m":2.49e6,"r":596,"g":"P25 dwarf galaxies"},{"m":1.78e6,"r":596,"g":"P25 dwarf galaxies"},{"m":1.51e6,"r":617,"g":"P25 dwarf galaxies"},{"m":5.13e5,"r":640,"g":"P25 dwarf galaxies"},{"m":6.49e5,"r":596,"g":"P25 dwarf galaxies"},{"m":8.49e5,"r":575,"g":"P25 dwarf galaxies"},{"m":3.35e4,"r":555,"g":"P25 dwarf galaxies"},{"m":2.31e4,"r":464,"g":"P25 dwarf galaxies"},{"m":7.26e4,"r":373,"g":"P25 dwarf galaxies"},{"m":3.64e8,"r":336,"g":"P25 dwarf galaxies"},{"m":1.62e8,"r":387,"g":"P25 dwarf galaxies"},{"m":1.05e8,"r":447,"g":"P25 dwarf galaxies"},{"m":8.85e7,"r":313,"g":"P25 dwarf galaxies"},{"m":6.76e7,"r":270,"g":"P25 dwarf galaxies"},{"m":6.76e7,"r":360,"g":"P25 dwarf galaxies"},{"m":3.69e7,"r":360,"g":"P25 dwarf galaxies"},{"m":3.56e7,"r":252,"g":"P25 dwarf galaxies"},{"m":4.51e7,"r":481,"g":"P25 dwarf galaxies"},{"m":3.81e7,"r":447,"g":"P25 dwarf galaxies"},{"m":2.38e7,"r":447,"g":"P25 dwarf galaxies"},{"m":2.43e7,"r":252,"g":"P25 dwarf galaxies"},{"m":2.01e7,"r":210,"g":"P25 dwarf galaxies"},{"m":1.59e7,"r":218,"g":"P25 dwarf galaxies"},{"m":1.7e7,"r":447,"g":"P25 dwarf galaxies"},{"m":1.34e7,"r":387,"g":"P25 dwarf galaxies"},{"m":1.17e7,"r":313,"g":"P25 dwarf galaxies"},{"m":8.98e6,"r":290,"g":"P25 dwarf galaxies"},{"m":7.33e6,"r":252,"g":"P25 dwarf galaxies"},{"m":8.4e6,"r":447,"g":"P25 dwarf galaxies"},{"m":5.6e6,"r":516,"g":"P25 dwarf galaxies"},{"m":4.57e6,"r":360,"g":"P25 dwarf galaxies"},{"m":4.0e6,"r":270,"g":"P25 dwarf galaxies"},{"m":3.05e6,"r":218,"g":"P25 dwarf galaxies"},{"m":2.33e6,"r":290,"g":"P25 dwarf galaxies"},{"m":2.58e6,"r":447,"g":"P25 dwarf galaxies"},{"m":1.9e6,"r":387,"g":"P25 dwarf galaxies"},{"m":1.56e6,"r":416,"g":"P25 dwarf galaxies"},{"m":1.27e6,"r":360,"g":"P25 dwarf galaxies"},{"m":1.11e6,"r":336,"g":"P25 dwarf galaxies"},{"m":8.49e5,"r":360,"g":"P25 dwarf galaxies"},{"m":6.95e5,"r":387,"g":"P25 dwarf galaxies"},{"m":5.3e5,"r":360,"g":"P25 dwarf galaxies"},{"m":4.64e5,"r":313,"g":"P25 dwarf galaxies"},{"m":4.05e5,"r":387,"g":"P25 dwarf galaxies"},{"m":3.54e5,"r":447,"g":"P25 dwarf galaxies"},{"m":3.09e5,"r":360,"g":"P25 dwarf galaxies"},{"m":2.53e5,"r":416,"g":"P25 dwarf galaxies"},{"m":2.07e5,"r":447,"g":"P25 dwarf galaxies"},{"m":1.69e5,"r":360,"g":"P25 dwarf galaxies"},{"m":2.21e5,"r":313,"g":"P25 dwarf galaxies"},{"m":2.7e5,"r":270,"g":"P25 dwarf galaxies"},{"m":3.54e5,"r":290,"g":"P25 dwarf galaxies"},{"m":6.07e5,"r":270,"g":"P25 dwarf galaxies"},{"m":7.94e5,"r":252,"g":"P25 dwarf galaxies"},{"m":1.11e6,"r":234,"g":"P25 dwarf galaxies"},{"m":1.56e6,"r":218,"g":"P25 dwarf galaxies"},{"m":2.04e6,"r":189,"g":"P25 dwarf galaxies"},{"m":1.36e6,"r":176,"g":"P25 dwarf galaxies"},{"m":1.04e6,"r":189,"g":"P25 dwarf galaxies"},{"m":7.94e5,"r":218,"g":"P25 dwarf galaxies"},{"m":5.68e5,"r":189,"g":"P25 dwarf galaxies"},{"m":5.13e5,"r":218,"g":"P25 dwarf galaxies"},{"m":4.33e5,"r":252,"g":"P25 dwarf galaxies"},{"m":3.09e5,"r":218,"g":"P25 dwarf galaxies"},{"m":2.53e5,"r":252,"g":"P25 dwarf galaxies"},{"m":2.07e5,"r":234,"g":"P25 dwarf galaxies"},{"m":2.21e5,"r":182,"g":"P25 dwarf galaxies"},{"m":2.89e5,"r":189,"g":"P25 dwarf galaxies"},{"m":3.54e5,"r":189,"g":"P25 dwarf galaxies"},{"m":2.37e5,"r":142,"g":"P25 dwarf galaxies"},{"m":2.89e5,"r":132,"g":"P25 dwarf galaxies"},{"m":3.31e5,"r":127,"g":"P25 dwarf galaxies"},{"m":1.38e5,"r":203,"g":"P25 dwarf galaxies"},{"m":1.17e5,"r":252,"g":"P25 dwarf galaxies"},{"m":1.69e5,"r":152,"g":"P25 dwarf galaxies"},{"m":1.58e5,"r":123,"g":"P25 dwarf galaxies"},{"m":1.38e5,"r":106,"g":"P25 dwarf galaxies"},{"m":1.2e5,"r":92,"g":"P25 dwarf galaxies"},{"m":1.93e5,"r":92,"g":"P25 dwarf galaxies"},{"m":2.37e5,"r":95.5,"g":"P25 dwarf galaxies"},{"m":2.89e5,"r":92,"g":"P25 dwarf galaxies"},{"m":2.0e5,"r":69.2,"g":"P25 dwarf galaxies"},{"m":9.84e4,"r":106,"g":"P25 dwarf galaxies"},{"m":9.5e4,"r":77,"g":"P25 dwarf galaxies"},{"m":1.17e5,"r":77,"g":"P25 dwarf galaxies"},{"m":8.6e4,"r":189,"g":"P25 dwarf galaxies"},{"m":6.07e4,"r":196,"g":"P25 dwarf galaxies"},{"m":6.07e4,"r":130,"g":"P25 dwarf galaxies"},{"m":5.68e4,"r":79.8,"g":"P25 dwarf galaxies"},{"m":4.1e4,"r":218,"g":"P25 dwarf galaxies"},{"m":3.47e4,"r":210,"g":"P25 dwarf galaxies"},{"m":4.25e4,"r":176,"g":"P25 dwarf galaxies"},{"m":3.47e4,"r":132,"g":"P25 dwarf galaxies"},{"m":2.83e4,"r":98.9,"g":"P25 dwarf galaxies"},{"m":1.93e4,"r":234,"g":"P25 dwarf galaxies"},{"m":1.6e4,"r":110,"g":"P25 dwarf galaxies"},{"m":1.22e4,"r":106,"g":"P25 dwarf galaxies"},{"m":1.31e4,"r":82.8,"g":"P25 dwarf galaxies"},{"m":1.89e4,"r":69.2,"g":"P25 dwarf galaxies"},{"m":1.31e4,"r":59.8,"g":"P25 dwarf galaxies"},{"m":1.07e4,"r":142,"g":"P25 dwarf galaxies"},{"m":5.3e5,"r":123,"g":"P25 dwarf galaxies"},{"m":6.07e5,"r":106,"g":"P25 dwarf galaxies"},{"m":7.43e5,"r":142,"g":"P25 dwarf galaxies"},{"m":9.08e5,"r":132,"g":"P25 dwarf galaxies"},{"m":6.49e5,"r":92,"g":"P25 dwarf galaxies"},{"m":7.43e5,"r":85.9,"g":"P25 dwarf galaxies"},{"m":9.4e5,"r":98.9,"g":"P25 dwarf galaxies"},{"m":6.95e5,"r":77,"g":"P25 dwarf galaxies"},{"m":1.66e6,"r":137,"g":"P25 dwarf galaxies"},{"m":6.07e5,"r":176,"g":"P25 dwarf galaxies"},{"m":9.08e5,"r":169,"g":"P25 dwarf galaxies"},{"m":4.28e6,"r":132,"g":"P25 dwarf galaxies"},{"m":5.6e6,"r":123,"g":"P25 dwarf galaxies"},{"m":7.57e6,"r":158,"g":"P25 dwarf galaxies"},{"m":8.55e6,"r":103,"g":"P25 dwarf galaxies"},{"m":5.22e6,"r":123,"g":"P25 dwarf galaxies"},{"m":1.15e6,"r":29.6,"g":"P25 dwarf galaxies"},{"m":6.07e5,"r":360,"g":"P25 dwarf galaxies"},{"m":1.04e6,"r":416,"g":"P25 dwarf galaxies"},{"m":1.36e6,"r":447,"g":"P25 dwarf galaxies"},{"m":1.78e6,"r":360,"g":"P25 dwarf galaxies"},{"m":2.04e6,"r":290,"g":"P25 dwarf galaxies"},{"m":3.49e6,"r":360,"g":"P25 dwarf galaxies"},{"m":6.85e6,"r":360,"g":"P25 dwarf galaxies"},{"m":1.03e7,"r":360,"g":"P25 dwarf galaxies"},{"m":2.15e7,"r":313,"g":"P25 dwarf galaxies"},{"m":1.88e7,"r":360,"g":"P25 dwarf galaxies"},{"m":1.34e7,"r":252,"g":"P25 dwarf galaxies"},{"m":2.67e6,"r":252,"g":"P25 dwarf galaxies"},{"m":1.19e6,"r":270,"g":"P25 dwarf galaxies"},{"m":4.64e5,"r":481,"g":"P25 dwarf galaxies"},{"m":2.58e6,"r":8.5,"g":"P25 dwarf galaxies"},{"m":2.11e6,"r":4.92,"g":"P25 dwarf galaxies"},{"m":2.33e6,"r":3.97,"g":"P25 dwarf galaxies"},{"m":1.97e6,"r":4.06,"g":"P25 dwarf galaxies"}
],
"gc": [
{"m":2.21e4,"r":29.2,"g":"P25 MW GCs"},{"m":1.6e4,"r":20.4,"g":"P25 MW GCs"},{"m":2.47e4,"r":19.7,"g":"P25 MW GCs"},{"m":2.93e4,"r":19.0,"g":"P25 MW GCs"},{"m":2.47e4,"r":15.9,"g":"P25 MW GCs"},{"m":3.71e4,"r":19.0,"g":"P25 MW GCs"},{"m":4.69e4,"r":15.9,"g":"P25 MW GCs"},{"m":6.79e4,"r":15.3,"g":"P25 MW GCs"},{"m":4.1e4,"r":14.8,"g":"P25 MW GCs"},{"m":5.68e4,"r":12.4,"g":"P25 MW GCs"},{"m":1.33e5,"r":10.7,"g":"P25 MW GCs"},{"m":9.59e5,"r":21.9,"g":"P25 MW GCs"},{"m":8.05e4,"r":9.6,"g":"P25 MW GCs"},{"m":3.84e4,"r":9.25,"g":"P25 MW GCs"},{"m":4.85e4,"r":7.74,"g":"P25 MW GCs"},{"m":1.33e5,"r":9.95,"g":"P25 MW GCs"},{"m":1.38e5,"r":7.74,"g":"P25 MW GCs"},{"m":3.42e5,"r":8.5,"g":"P25 MW GCs"},{"m":2.89e5,"r":6.84,"g":"P25 MW GCs"},{"m":5.13e5,"r":6.56,"g":"P25 MW GCs"},{"m":1.49e4,"r":7.05,"g":"P25 MW GCs"},{"m":2.24e4,"r":6.47,"g":"P25 MW GCs"},{"m":1.96e4,"r":4.06,"g":"P25 MW GCs"},{"m":1.65e4,"r":2.69,"g":"P25 MW GCs"},{"m":1.07e4,"r":6.95,"g":"P25 MW GCs"},{"m":8.6e4,"r":5.81,"g":"P25 MW GCs"},{"m":7.03e4,"r":5.21,"g":"P25 MW GCs"},{"m":4.54e4,"r":4.69,"g":"P25 MW GCs"},{"m":4.25e4,"r":3.91,"g":"P25 MW GCs"},{"m":6.58e4,"r":4.52,"g":"P25 MW GCs"},{"m":8.05e4,"r":4.21,"g":"P25 MW GCs"},{"m":9.84e4,"r":4.21,"g":"P25 MW GCs"},{"m":1.38e5,"r":4.85,"g":"P25 MW GCs"},{"m":1.8e5,"r":5.6,"g":"P25 MW GCs"},{"m":1.93e5,"r":4.52,"g":"P25 MW GCs"},{"m":2.37e5,"r":3.91,"g":"P25 MW GCs"},{"m":2.99e5,"r":4.21,"g":"P25 MW GCs"},{"m":4.19e5,"r":4.06,"g":"P25 MW GCs"},{"m":5.3e5,"r":3.51,"g":"P25 MW GCs"},{"m":7.43e5,"r":4.52,"g":"P25 MW GCs"},{"m":9.08e5,"r":4.06,"g":"P25 MW GCs"},{"m":6.95e5,"r":3.05,"g":"P25 MW GCs"},{"m":5.68e5,"r":3.27,"g":"P25 MW GCs"},{"m":4.69e4,"r":2.74,"g":"P25 MW GCs"},{"m":5.56e4,"r":2.46,"g":"P25 MW GCs"},{"m":6.36e4,"r":3.05,"g":"P25 MW GCs"},{"m":8.05e4,"r":2.94,"g":"P25 MW GCs"},{"m":9.84e4,"r":2.94,"g":"P25 MW GCs"},{"m":1.2e5,"r":3.16,"g":"P25 MW GCs"},{"m":1.43e5,"r":3.51,"g":"P25 MW GCs"},{"m":1.58e5,"r":2.94,"g":"P25 MW GCs"},{"m":1.93e5,"r":2.74,"g":"P25 MW GCs"},{"m":2.53e5,"r":2.94,"g":"P25 MW GCs"},{"m":3.1e5,"r":2.94,"g":"P25 MW GCs"},{"m":3.54e5,"r":3.27,"g":"P25 MW GCs"},{"m":4.05e5,"r":2.54,"g":"P25 MW GCs"},{"m":4.64e5,"r":2.37,"g":"P25 MW GCs"},{"m":1.11e6,"r":2.54,"g":"P25 MW GCs"},{"m":1.46e6,"r":2.12,"g":"P25 MW GCs"},{"m":1.66e6,"r":3.64,"g":"P25 MW GCs"},{"m":2.76e6,"r":7.57,"g":"P25 MW GCs"},{"m":6.07e5,"r":1.84,"g":"P25 MW GCs"},{"m":7.18e5,"r":1.78,"g":"P25 MW GCs"},{"m":7.94e5,"r":2.05,"g":"P25 MW GCs"},{"m":3.31e5,"r":1.78,"g":"P25 MW GCs"},{"m":2.7e5,"r":1.6,"g":"P25 MW GCs"},{"m":3.79e5,"r":1.91,"g":"P25 MW GCs"},{"m":6.07e5,"r":1.33,"g":"P25 MW GCs"},{"m":6.49e5,"r":1.29,"g":"P25 MW GCs"},{"m":1.69e5,"r":1.48,"g":"P25 MW GCs"},{"m":1.47e5,"r":1.71,"g":"P25 MW GCs"},{"m":1.13e5,"r":1.91,"g":"P25 MW GCs"},{"m":1.02e5,"r":2.05,"g":"P25 MW GCs"},{"m":8.6e4,"r":1.98,"g":"P25 MW GCs"},{"m":7.26e4,"r":1.65,"g":"P25 MW GCs"},{"m":5.37e4,"r":1.38,"g":"P25 MW GCs"},{"m":4.54e4,"r":1.54,"g":"P25 MW GCs"},{"m":6.36e4,"r":1.91,"g":"P25 MW GCs"},{"m":5.01e4,"r":1.78,"g":"P25 MW GCs"},{"m":1.13e5,"r":1.07,"g":"P25 MW GCs"},{"m":3.92e5,"r":0.543,"g":"P25 MW GCs"},{"m":1.29e5,"r":2.64,"g":"P25 MW GCs"},{"m":2.07e5,"r":2.37,"g":"P25 MW GCs"},{"m":3.1e5,"r":2.2,"g":"P25 MW GCs"},{"m":2.21e5,"r":3.51,"g":"P25 MW GCs"},{"m":1.58e5,"r":4.06,"g":"P25 MW GCs"},{"m":1.13e5,"r":3.64,"g":"P25 MW GCs"},{"m":4.64e5,"r":4.52,"g":"P25 MW GCs"},{"m":2980,"r":7.85,"g":"P25 MW GCs"},{"m":3530,"r":7.36,"g":"P25 MW GCs"},{"m":7960,"r":9.4,"g":"P25 MW GCs"},{"m":9770,"r":7.2,"g":"P25 MW GCs"},{"m":4480,"r":4.69,"g":"P25 MW GCs"},{"m":766,"r":5.6,"g":"P25 MW GCs"},{"m":8820,"r":3.99,"g":"P25 MW GCs"},{"m":5480,"r":2.94,"g":"P25 MW GCs"},{"m":6720,"r":2.46,"g":"P25 MW GCs"},{"m":1710,"r":2.02,"g":"P25 MW GCs"},{"m":3530,"r":1.0,"g":"P25 MW GCs"},{"m":1.0e5,"r":3.5,"g":"P25 MW GCs"},{"m":1.25e5,"r":2.3,"g":"P25 MW GCs"},{"m":2.6e5,"r":3.4,"g":"P25 MW GCs"},{"m":3.8e5,"r":3.7,"g":"P25 MW GCs"},{"m":2.0e5,"r":2.1,"g":"P25 MW GCs"},{"m":1.6e5,"r":3.3,"g":"P25 MW GCs"},{"m":9.0e4,"r":3.7,"g":"P25 MW GCs"},{"m":2.9e5,"r":2.6,"g":"P25 MW GCs"},{"m":4.3e5,"r":3.1,"g":"P25 MW GCs"}
],
"amb": [
{"m":668,"r":12.4,"g":"P25 ambiguous"},{"m":668,"r":9.95,"g":"P25 ambiguous"},{"m":1150,"r":8.3,"g":"P25 ambiguous"},{"m":431,"r":9.25,"g":"P25 ambiguous"},{"m":477,"r":7.74,"g":"P25 ambiguous"},{"m":117,"r":7.57,"g":"P25 ambiguous"},{"m":127,"r":6.69,"g":"P25 ambiguous"},{"m":204,"r":6.47,"g":"P25 ambiguous"},{"m":262,"r":6.01,"g":"P25 ambiguous"},{"m":511,"r":5.6,"g":"P25 ambiguous"},{"m":585,"r":6.47,"g":"P25 ambiguous"},{"m":741,"r":6.69,"g":"P25 ambiguous"},{"m":972,"r":4.85,"g":"P25 ambiguous"},{"m":397,"r":4.42,"g":"P25 ambiguous"},{"m":169,"r":4.06,"g":"P25 ambiguous"},{"m":259,"r":3.51,"g":"P25 ambiguous"},{"m":741,"r":3.43,"g":"P25 ambiguous"},{"m":88.7,"r":2.28,"g":"P25 ambiguous"},{"m":22.5,"r":2.58,"g":"P25 ambiguous"},{"m":127,"r":1.32,"g":"P25 ambiguous"},{"m":3530,"r":7.36,"g":"P25 ambiguous"},{"m":1150,"r":21.6,"g":"P25 ambiguous"},{"m":546,"r":5.4,"g":"P25 ambiguous"},{"m":211,"r":5.81,"g":"P25 ambiguous"},{"m":668,"r":13.8,"g":"P25 ambiguous"}
],
"arrow": [{"m":1644,"r":0.805,"o":0},{"m":1175,"r":1.045,"o":1},{"m":879,"r":1.43,"o":2},{"m":676,"r":2.04,"o":3},{"m":545,"r":2.75,"o":4},{"m":475,"r":3.23,"o":5}],
"head": [{"m":475,"r":3.23}],
"label": [{"m":3980,"r":0.524,"t":"Kop 2"}]
},
"layer": [
{
"data": {"name": "gray"},
"mark": {"type": "point", "filled": true, "size": 32, "opacity": 0.28, "strokeWidth": 0, "clip": true},
"encoding": {
"x": {"field": "m", "type": "quantitative", "scale": {"type": "log", "domain": [2.949, 4.19e8], "nice": false},
"axis": {"orient": "bottom", "values": [3,4,5,6,7,8,9,10,20,30,40,50,60,70,80,90,100,200,300,400,500,600,700,800,900,1000,2000,3000,4000,5000,6000,7000,8000,9000,10000,20000,30000,40000,50000,60000,70000,80000,90000,100000,200000,300000,400000,500000,600000,700000,800000,900000,1000000,2000000,3000000,4000000,5000000,6000000,7000000,8000000,9000000,10000000,20000000,30000000,40000000,50000000,60000000,70000000,80000000,90000000,100000000,200000000,300000000,400000000],
"labelExpr": "abs(log(datum.value)/LN10 - round(log(datum.value)/LN10)) < 0.001 ? '10' + (round(log(datum.value)/LN10) < 0 ? '⁻' : '') + substring('⁰¹²³⁴⁵⁶⁷⁸⁹', abs(round(log(datum.value)/LN10)), abs(round(log(datum.value)/LN10)) + 1) : ''",
"tickSize": {"condition": {"test": "abs(log(datum.value)/LN10 - round(log(datum.value)/LN10)) < 0.001", "value": -10}, "value": -5},
"tickColor": "black", "tickWidth": 1, "domainColor": "black", "domainWidth": 1.5, "grid": false,
"labelFont": "Liberation Serif", "labelFontSize": 30, "labelColor": "black", "labelPadding": 4, "labelOverlap": false, "labelFlush": false, "labelBound": false,
"title": "M⋆ [M☉]", "titleFont": "Liberation Serif", "titleFontSize": 32, "titleFontWeight": "normal", "titleColor": "black", "titlePadding": 11}},
"y": {"field": "r", "type": "quantitative", "scale": {"type": "log", "domain": [0.0536, 8010], "nice": false},
"axis": {"orient": "left", "values": [0.06,0.07,0.08,0.09,0.1,0.2,0.3,0.4,0.5,0.6,0.7,0.8,0.9,1,2,3,4,5,6,7,8,9,10,20,30,40,50,60,70,80,90,100,200,300,400,500,600,700,800,900,1000,2000,3000,4000,5000,6000,7000,8000],
"labelExpr": "abs(log(datum.value)/LN10 - round(log(datum.value)/LN10)) < 0.001 ? '10' + (round(log(datum.value)/LN10) < 0 ? '⁻' : '') + substring('⁰¹²³⁴⁵⁶⁷⁸⁹', abs(round(log(datum.value)/LN10)), abs(round(log(datum.value)/LN10)) + 1) : ''",
"tickSize": {"condition": {"test": "abs(log(datum.value)/LN10 - round(log(datum.value)/LN10)) < 0.001", "value": -10}, "value": -5},
"tickColor": "black", "tickWidth": 1, "domainColor": "black", "domainWidth": 1.5, "grid": false,
"labelFont": "Liberation Serif", "labelFontSize": 30, "labelColor": "black", "labelPadding": 6, "labelOverlap": false, "labelFlush": false, "labelBound": false,
"title": "Rₕ [pc]", "titleFont": "Liberation Serif", "titleFontSize": 32, "titleFontWeight": "normal", "titleColor": "black", "titlePadding": 40}},
"color": {"field": "g", "type": "nominal",
"scale": {"domain": ["P25 dwarf galaxies", "P25 MW GCs", "P25 ambiguous", "HR24 OC"], "range": ["#4169e1", "#ff8c00", "#dc143c", "#b0b0b0"]},
"legend": {"title": null, "orient": "none", "legendX": 13, "legendY": 13, "direction": "vertical", "fillColor": "white", "strokeColor": "black", "cornerRadius": 5, "padding": 9, "symbolSize": 700, "symbolOffset": 14, "labelOffset": 34, "labelLimit": 500, "labelFont": "Liberation Serif", "labelFontSize": 26, "labelColor": "black", "rowPadding": 10, "symbolStrokeWidth": 0, "symbolOpacity": 0.9,
"encode": {"symbols": {"update": {"size": {"signal": "datum.value === 'HR24 OC' ? 86 : datum.value === 'P25 dwarf galaxies' ? 713 : 543"}}}}}},
"shape": {"field": "g", "type": "nominal",
"scale": {"domain": ["P25 dwarf galaxies", "P25 MW GCs", "P25 ambiguous", "HR24 OC"], "range": ["diamond", "square", "square", "circle"]},
"legend": {"title": null, "orient": "none", "legendX": 13, "legendY": 13, "direction": "vertical", "fillColor": "white", "strokeColor": "black", "cornerRadius": 5, "padding": 9, "symbolSize": 700, "symbolOffset": 14, "labelOffset": 34, "labelLimit": 500, "labelFont": "Liberation Serif", "labelFontSize": 26, "labelColor": "black", "rowPadding": 10, "symbolStrokeWidth": 0, "symbolOpacity": 0.9,
"encode": {"symbols": {"update": {"size": {"signal": "datum.value === 'HR24 OC' ? 86 : datum.value === 'P25 dwarf galaxies' ? 713 : 543"}}}}}}
}
},
{
"data": {"name": "box"},
"mark": {"type": "line", "color": "black", "strokeWidth": 1.5, "clip": true},
"encoding": {
"x": {"field": "m", "type": "quantitative", "scale": {"type": "log", "domain": [2.949, 4.19e8], "nice": false},
"axis": {"orient": "top", "values": [3,4,5,6,7,8,9,10,20,30,40,50,60,70,80,90,100,200,300,400,500,600,700,800,900,1000,2000,3000,4000,5000,6000,7000,8000,9000,10000,20000,30000,40000,50000,60000,70000,80000,90000,100000,200000,300000,400000,500000,600000,700000,800000,900000,1000000,2000000,3000000,4000000,5000000,6000000,7000000,8000000,9000000,10000000,20000000,30000000,40000000,50000000,60000000,70000000,80000000,90000000,100000000,200000000,300000000,400000000],
"labels": false, "title": null, "grid": false,
"tickSize": {"condition": {"test": "abs(log(datum.value)/LN10 - round(log(datum.value)/LN10)) < 0.001", "value": -10}, "value": -5},
"tickColor": "black", "tickWidth": 1, "domainColor": "black", "domainWidth": 1.5}},
"y": {"field": "r", "type": "quantitative", "scale": {"type": "log", "domain": [0.0536, 8010], "nice": false},
"axis": {"orient": "right", "values": [0.06,0.07,0.08,0.09,0.1,0.2,0.3,0.4,0.5,0.6,0.7,0.8,0.9,1,2,3,4,5,6,7,8,9,10,20,30,40,50,60,70,80,90,100,200,300,400,500,600,700,800,900,1000,2000,3000,4000,5000,6000,7000,8000],
"labels": false, "title": null, "grid": false,
"tickSize": {"condition": {"test": "abs(log(datum.value)/LN10 - round(log(datum.value)/LN10)) < 0.001", "value": -10}, "value": -5},
"tickColor": "black", "tickWidth": 1, "domainColor": "black", "domainWidth": 1.5}},
"order": {"field": "o", "type": "quantitative"}
}
},
{
"data": {"name": "oc"},
"mark": {"type": "point", "shape": "circle", "filled": true, "size": 95, "opacity": 0.92, "strokeWidth": 0, "clip": true},
"encoding": {
"x": {"field": "m", "type": "quantitative", "scale": {"type": "log", "domain": [2.949, 4.19e8], "nice": false}, "axis": null},
"y": {"field": "r", "type": "quantitative", "scale": {"type": "log", "domain": [0.0536, 8010], "nice": false}, "axis": null},
"fill": {"field": "a", "type": "quantitative", "scale": {"domain": [3.0, 9.54], "range": ["#008066", "#ffff66"], "interpolate": "rgb"},
"legend": {"title": "Old OC age [10⁹ Gyr]", "orient": "none", "direction": "horizontal", "legendX": 601, "legendY": 453, "gradientLength": 337, "gradientThickness": 18, "gradientStrokeColor": "black", "gradientStrokeWidth": 1.2, "values": [4, 5, 6, 7, 8, 9], "labelOffset": -42, "labelFontSize": 17, "labelFont": "Liberation Serif", "labelColor": "black", "titleFont": "Liberation Serif", "titleFontSize": 22, "titleFontWeight": "normal", "titleColor": "black", "titleAnchor": "middle", "titleLimit": 600, "titlePadding": 34, "padding": 0, "labelOverlap": false}}
}
},
{
"data": {"name": "dw"},
"mark": {"type": "point", "filled": true, "size": 230, "opacity": 0.9, "strokeWidth": 0, "clip": true},
"encoding": {
"x": {"field": "m", "type": "quantitative", "scale": {"type": "log", "domain": [2.949, 4.19e8], "nice": false}, "axis": null},
"y": {"field": "r", "type": "quantitative", "scale": {"type": "log", "domain": [0.0536, 8010], "nice": false}, "axis": null},
"color": {"field": "g", "type": "nominal"},
"shape": {"field": "g", "type": "nominal"}
}
},
{
"data": {"name": "gc"},
"mark": {"type": "point", "filled": true, "size": 165, "opacity": 0.9, "strokeWidth": 0, "clip": true},
"encoding": {
"x": {"field": "m", "type": "quantitative", "scale": {"type": "log", "domain": [2.949, 4.19e8], "nice": false}, "axis": null},
"y": {"field": "r", "type": "quantitative", "scale": {"type": "log", "domain": [0.0536, 8010], "nice": false}, "axis": null},
"color": {"field": "g", "type": "nominal"},
"shape": {"field": "g", "type": "nominal"}
}
},
{
"data": {"name": "amb"},
"mark": {"type": "point", "filled": true, "size": 190, "opacity": 0.9, "strokeWidth": 0, "clip": true},
"encoding": {
"x": {"field": "m", "type": "quantitative", "scale": {"type": "log", "domain": [2.949, 4.19e8], "nice": false}, "axis": null},
"y": {"field": "r", "type": "quantitative", "scale": {"type": "log", "domain": [0.0536, 8010], "nice": false}, "axis": null},
"color": {"field": "g", "type": "nominal"},
"shape": {"field": "g", "type": "nominal"}
}
},
{
"data": {"name": "arrow"},
"mark": {"type": "line", "color": "black", "strokeWidth": 1.5, "interpolate": "monotone"},
"encoding": {
"x": {"field": "m", "type": "quantitative", "scale": {"type": "log", "domain": [2.949, 4.19e8], "nice": false}, "axis": null},
"y": {"field": "r", "type": "quantitative", "scale": {"type": "log", "domain": [0.0536, 8010], "nice": false}, "axis": null},
"order": {"field": "o", "type": "quantitative"}
}
},
{
"data": {"name": "head"},
"mark": {"type": "point", "shape": "triangle-up", "filled": true, "size": 110, "color": "black", "opacity": 1, "angle": -43, "strokeWidth": 0},
"encoding": {
"x": {"field": "m", "type": "quantitative", "scale": {"type": "log", "domain": [2.949, 4.19e8], "nice": false}, "axis": null},
"y": {"field": "r", "type": "quantitative", "scale": {"type": "log", "domain": [0.0536, 8010], "nice": false}, "axis": null}
}
},
{
"data": {"name": "label"},
"mark": {"type": "text", "font": "Liberation Serif", "fontSize": 24, "color": "black", "align": "center", "baseline": "middle"},
"encoding": {
"x": {"field": "m", "type": "quantitative", "scale": {"type": "log", "domain": [2.949, 4.19e8], "nice": false}, "axis": null},
"y": {"field": "r", "type": "quantitative", "scale": {"type": "log", "domain": [0.0536, 8010], "nice": false}, "axis": null},
"text": {"field": "t"}
}
}
],
"resolve": {"axis": {"x": "independent", "y": "independent"}}
}
